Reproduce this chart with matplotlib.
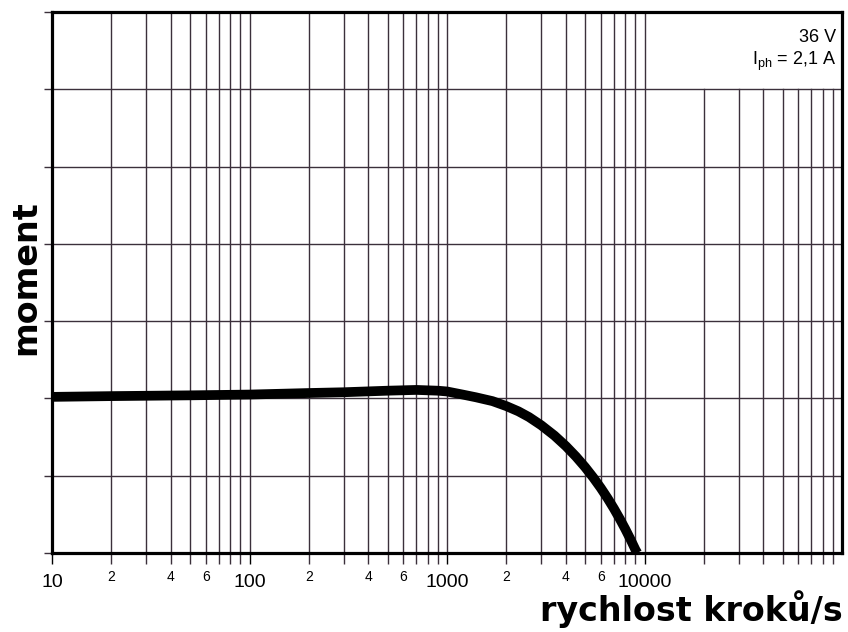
import matplotlib

matplotlib.use("Agg")
import matplotlib.pyplot as plt
import numpy as np
from matplotlib.ticker import FixedLocator, FixedFormatter, NullFormatter

plt.rcParams["font.family"] = ["Liberation Sans", "DejaVu Sans"]
plt.rcParams["mathtext.fontset"] = "custom"
plt.rcParams["mathtext.rm"] = "Liberation Sans"
plt.rcParams["mathtext.it"] = "Liberation Sans"

# torque curve (relative units, one grid row = 1)
speed = [10, 20, 50, 100, 200, 300, 500, 700, 900, 1000, 1200, 1400, 1700,
         2000, 2300, 2600, 3000, 3500, 4000, 4500, 5000, 5500, 6000, 6500,
         7000, 7500, 8000, 8500, 9000, 9200]
torque = [2.02, 2.03, 2.04, 2.05, 2.07, 2.08, 2.10, 2.11, 2.10, 2.09, 2.05, 2.015, 1.965,
          1.90, 1.833, 1.759, 1.653, 1.519, 1.383, 1.247, 1.112, 0.977, 0.843, 0.709,
          0.575, 0.441, 0.308, 0.175, 0.042, 0.0]

decades = [10, 100, 1000, 10000]
major_labels = ["10", "100", "1000", "10000"]
minor_steps = [2, 3, 4, 5, 6, 7, 8, 9]
minor_shown = {2: "2", 4: "4", 6: "6"}
y_levels = [0, 1, 2, 3, 4, 5, 6, 7]
box_level = 6   # grid of the last decade stops below the label box

fig = plt.figure(figsize=(8.48, 6.32), dpi=100)
ax = fig.add_axes([52 / 848, 79 / 632, 790 / 848, 541 / 632])
ax.set_xscale("log")
ax.set_xlim(10, 100000)
ax.set_ylim(0, 7)

grid_c = "#3b303b"
minor_x = [d * s for d in decades for s in minor_steps]
for x in decades[1:] + minor_x:
    top = box_level if x > decades[-1] else 7
    ax.plot([x, x], [0, top], color=grid_c, lw=1.0, zorder=1)
for y in y_levels[1:-1]:
    ax.axhline(y, color=grid_c, lw=1.0, zorder=1)

ax.plot(speed, torque, color="black", lw=7, solid_capstyle="butt",
        solid_joinstyle="round", zorder=3)

ax.xaxis.set_major_locator(FixedLocator(decades))
ax.xaxis.set_major_formatter(FixedFormatter(major_labels))
ax.xaxis.set_minor_locator(FixedLocator(minor_x))
minor_lbls = [minor_shown.get(s, "") if d < decades[-1] else ""
              for d in decades for s in minor_steps]
ax.xaxis.set_minor_formatter(FixedFormatter(minor_lbls))
ax.tick_params(axis="x", which="major", direction="out", length=8, width=1.0,
               labelsize=14, pad=7, color="black")
ax.tick_params(axis="x", which="minor", direction="out", length=8, width=1.0,
               labelsize=10, pad=4, color=grid_c)
ax.set_yticks(y_levels)
ax.yaxis.set_major_formatter(NullFormatter())
ax.tick_params(axis="y", direction="out", length=6, width=1.0, color=grid_c)

for sp in ax.spines.values():
    sp.set_linewidth(2.3)
    sp.set_color("black")

fig.text(843 / 848, 1 - 621 / 632, "rychlost kroků/s", ha="right", va="baseline",
         fontsize=24, fontweight="bold", family="DejaVu Sans")
fig.text(26 / 848, 1 - 278 / 632, "moment", ha="center", va="center", rotation=90,
         fontsize=24, fontweight="bold", family="DejaVu Sans")

fig.text(836 / 848, 1 - 42 / 632, "36 V", ha="right", va="baseline", fontsize=13)
fig.text(836 / 848, 1 - 65 / 632, r"$\mathregular{I_{ph}}$ = 2,1 A", ha="right",
         va="baseline", fontsize=13)

fig.savefig("out.png", dpi=100)
